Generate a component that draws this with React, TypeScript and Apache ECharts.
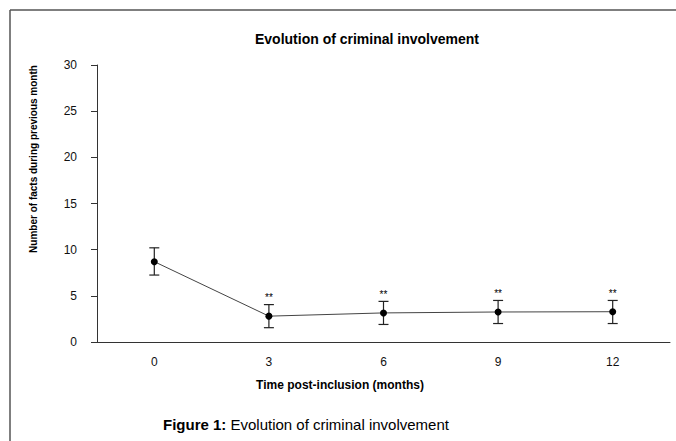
import React, { useEffect, useRef } from "react";
import * as echarts from "echarts";

const categories = ["0", "3", "6", "9", "12"];
const means = [8.7, 2.8, 3.15, 3.25, 3.28];
const errLow = [7.25, 1.55, 1.9, 2.0, 2.0];
const errHigh = [10.2, 4.05, 4.4, 4.5, 4.5];
const stars = ["", "**", "**", "**", "**"];

const FONT = "Arial, 'Liberation Sans', sans-serif";

export default function App() {
  const ref = useRef<HTMLDivElement>(null);
  useEffect(() => {
    if (!ref.current) return;
    const chart = echarts.init(ref.current, null, { renderer: "svg" });
    const errData = categories.map((_, i) => [i, errLow[i], errHigh[i]]);
    chart.setOption({
      animation: false,
      backgroundColor: "#fff",
      grid: { left: 97, right: 6, top: 65, bottom: 99, containLabel: false },
      title: {
        text: "Evolution of criminal involvement",
        left: 362,
        top: 27,
        textAlign: "center",
        textStyle: { fontFamily: FONT, fontSize: 14, fontWeight: "bold", color: "#000" },
      },
      xAxis: {
        type: "category",
        data: categories,
        boundaryGap: true,
        axisLine: { show: true, lineStyle: { color: "#333", width: 1 } },
        axisTick: { show: false },
        axisLabel: { fontFamily: FONT, fontSize: 12, color: "#111", margin: 14 },
        splitLine: { show: false },
      },
      yAxis: {
        type: "value",
        min: 0,
        max: 30,
        interval: 5,
        axisLine: { show: true, lineStyle: { color: "#333", width: 1 } },
        axisTick: { show: true, inside: false, length: 6, lineStyle: { color: "#333" } },
        axisLabel: { fontFamily: FONT, fontSize: 12, color: "#111", margin: 20 },
        splitLine: { show: false },
      },
      graphic: [
        {
          type: "line",
          shape: { x1: 10, y1: 10, x2: 676, y2: 10 },
          style: { stroke: "#555", lineWidth: 1.5 },
        },
        {
          type: "line",
          shape: { x1: 10, y1: 10, x2: 10, y2: 441 },
          style: { stroke: "#555", lineWidth: 1.5 },
        },
        {
          type: "text",
          x: 33,
          y: 159,
          rotation: Math.PI / 2,
          style: {
            text: "Number of facts during previous month",
            fontFamily: FONT,
            fontSize: 10,
            fontWeight: "bold",
            fill: "#000",
            align: "center",
            verticalAlign: "middle",
          },
        },
        {
          type: "text",
          x: 340,
          y: 385,
          style: {
            text: "Time post-inclusion (months)",
            fontFamily: FONT,
            fontSize: 12,
            fontWeight: "bold",
            fill: "#000",
            align: "center",
            verticalAlign: "middle",
          },
        },
        {
          type: "text",
          x: 163,
          y: 424,
          style: {
            text: "{b|Figure 1:} Evolution of criminal involvement",
            fontFamily: FONT,
            fontSize: 15,
            fill: "#000",
            align: "left",
            verticalAlign: "middle",
            rich: {
              b: { fontFamily: FONT, fontSize: 15, fontWeight: "bold", fill: "#000" },
            },
          },
        },
      ],
      series: [
        {
          type: "line",
          data: means,
          symbol: "circle",
          symbolSize: 7,
          itemStyle: { color: "#000" },
          lineStyle: { color: "#444", width: 1 },
          z: 3,
        },
        {
          type: "custom",
          data: errData,
          z: 2,
          itemStyle: { color: "#000" },
          renderItem: (params: any, api: any) => {
            const x = api.value(0);
            const lo = api.coord([x, api.value(1)]);
            const hi = api.coord([x, api.value(2)]);
            const w = 5;
            const style = { stroke: "#222", lineWidth: 1.2 };
            const children: any[] = [
              { type: "line", shape: { x1: lo[0], y1: lo[1], x2: hi[0], y2: hi[1] }, style },
              { type: "line", shape: { x1: hi[0] - w, y1: hi[1], x2: hi[0] + w, y2: hi[1] }, style },
              { type: "line", shape: { x1: lo[0] - w, y1: lo[1], x2: lo[0] + w, y2: lo[1] }, style },
            ];
            const s = stars[params.dataIndex];
            if (s) {
              children.push({
                type: "text",
                x: hi[0],
                y: hi[1] - 7,
                style: {
                  text: s,
                  fontFamily: FONT,
                  fontSize: 10,
                  fill: "#000",
                  align: "center",
                  verticalAlign: "middle",
                },
              });
            }
            return { type: "group", children };
          },
        },
      ],
    });
    return () => chart.dispose();
  }, []);
  return (
    <div
      ref={ref}
      style={{ position: "absolute", left: 0, top: 0, width: 676, height: 441 }}
    />
  );
}
